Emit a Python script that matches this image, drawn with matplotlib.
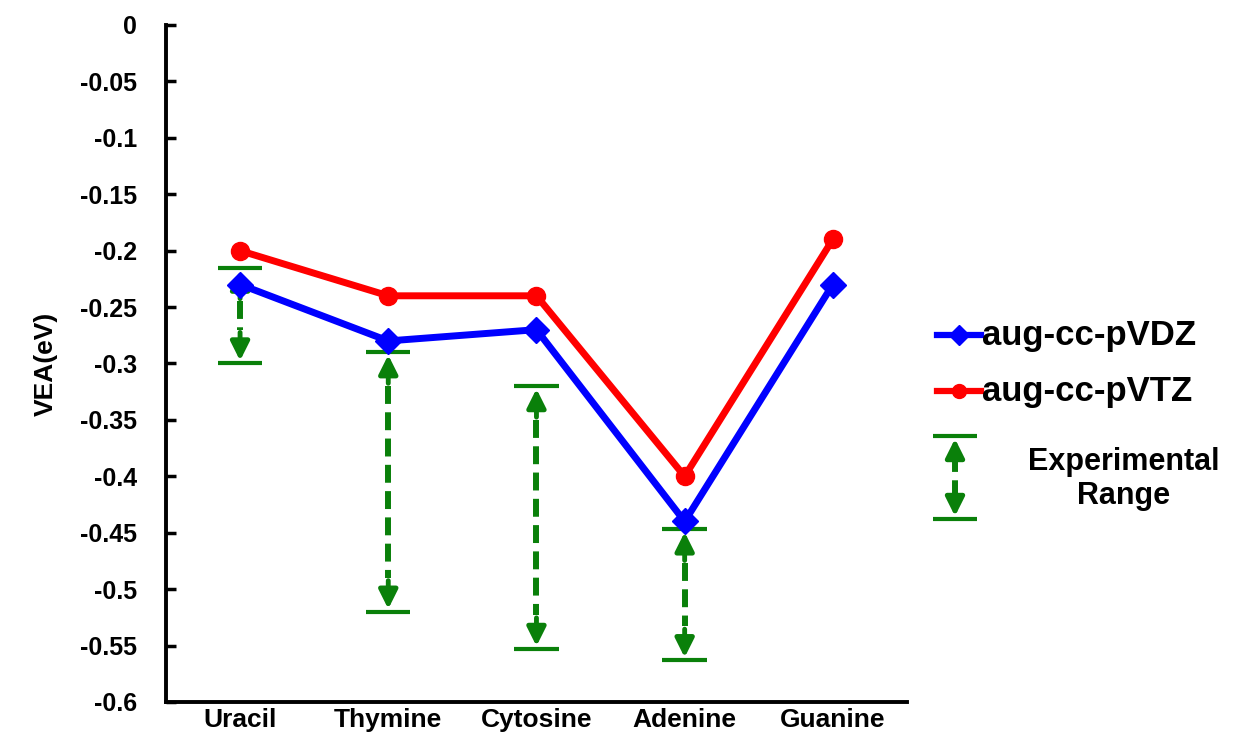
import matplotlib.pyplot as plt

# data
bases = ['Uracil', 'Thymine', 'Cytosine', 'Adenine', 'Guanine']
vdz = [-0.23, -0.28, -0.27, -0.44, -0.23]
vtz = [-0.20, -0.24, -0.24, -0.40, -0.19]
# experimental ranges (top, bottom) for the first four bases
exp_top = [-0.215, -0.29, -0.32, -0.447]
exp_bot = [-0.30, -0.52, -0.553, -0.563]

plt.rcParams['font.family'] = ['Liberation Sans', 'DejaVu Sans']
plt.rcParams['font.weight'] = 'bold'

green = '#0a800a'
blue = '#0000ff'
red = '#ff0000'

fig = plt.figure(figsize=(12.47, 7.33), dpi=100)
ax = fig.add_axes([0.1331, 0.0423, 0.5942, 0.9236])

x = list(range(len(bases)))

def exp_bar(a, xc, top, bot, half=0.15, head=0.03):
    # dashed shaft, caps and arrow heads
    a.plot([xc, xc], [top - head, bot + head], color=green, lw=4.3,
           ls=(0, (3, 1.4)), zorder=2, clip_on=False)
    a.plot([xc - half, xc + half], [top, top], color=green, lw=3, zorder=2,
           solid_capstyle='butt', clip_on=False)
    a.plot([xc - half, xc + half], [bot, bot], color=green, lw=3, zorder=2,
           solid_capstyle='butt', clip_on=False)
    a.annotate('', xy=(xc, top), xytext=(xc, top - head),
               arrowprops=dict(arrowstyle='-|>', color=green, lw=3.5, mutation_scale=28),
               zorder=2, annotation_clip=False)
    a.annotate('', xy=(xc, bot), xytext=(xc, bot + head),
               arrowprops=dict(arrowstyle='-|>', color=green, lw=3.5, mutation_scale=28),
               zorder=2, annotation_clip=False)

for i in range(len(exp_top)):
    exp_bar(ax, x[i], exp_top[i], exp_bot[i])

ax.plot(x, vtz, color=red, lw=5, marker='o', ms=13, zorder=3)
ax.plot(x, vdz, color=blue, lw=5, marker='D', ms=13, zorder=4)

ax.set_xlim(-0.5, 4.5)
ax.set_ylim(-0.6, 0)
ax.set_yticks([-0.6, -0.55, -0.5, -0.45, -0.4, -0.35, -0.3, -0.25, -0.2,
               -0.15, -0.1, -0.05, 0])
ax.set_yticklabels(['-0.6', '-0.55', '-0.5', '-0.45', '-0.4', '-0.35', '-0.3',
                    '-0.25', '-0.2', '-0.15', '-0.1', '-0.05', '0'])
ax.set_xticks(x)
ax.set_xticklabels(bases)
ax.tick_params(axis='y', direction='in', length=7, width=2.5, labelsize=18, pad=21)
ax.tick_params(axis='x', length=0, labelsize=19, pad=4)
for s in ['top', 'right']:
    ax.spines[s].set_visible(False)
for s in ['left', 'bottom']:
    ax.spines[s].set_linewidth(2.8)
ax.set_ylabel('VEA(eV)', fontsize=19, fontweight='bold', labelpad=16)

# legend drawn by hand in pixel coordinates
lg = fig.add_axes([920 / 1247, 1 - 540 / 733, 327 / 1247, 240 / 733])
lg.set_xlim(920, 1247)
lg.set_ylim(540, 300)
lg.axis('off')
lg.plot([937, 959, 981], [335, 335, 335], color=blue, lw=4.5, marker='D', ms=10,
        markevery=[1])
lg.text(982, 336, 'aug-cc-pVDZ', fontsize=25, fontweight='bold', va='center', ha='left')
lg.plot([937, 959, 981], [391, 391, 391], color=red, lw=4.5, marker='o', ms=10,
        markevery=[1])
lg.text(982, 392, 'aug-cc-pVTZ', fontsize=25, fontweight='bold', va='center', ha='left')
lg.plot([933, 977], [436, 436], color=green, lw=3, solid_capstyle='butt')
lg.plot([933, 977], [519, 519], color=green, lw=3, solid_capstyle='butt')
lg.plot([955, 955], [454, 501], color=green, lw=4.3, ls=(0, (3, 1.4)))
lg.annotate('', xy=(955, 436), xytext=(955, 456),
            arrowprops=dict(arrowstyle='-|>', color=green, lw=3.5, mutation_scale=28))
lg.annotate('', xy=(955, 519), xytext=(955, 499),
            arrowprops=dict(arrowstyle='-|>', color=green, lw=3.5, mutation_scale=28))
lg.text(1124, 479, 'Experimental\nRange', fontsize=22, fontweight='bold',
        va='center', ha='center', linespacing=1.2)

fig.savefig('out.png', dpi=100)
